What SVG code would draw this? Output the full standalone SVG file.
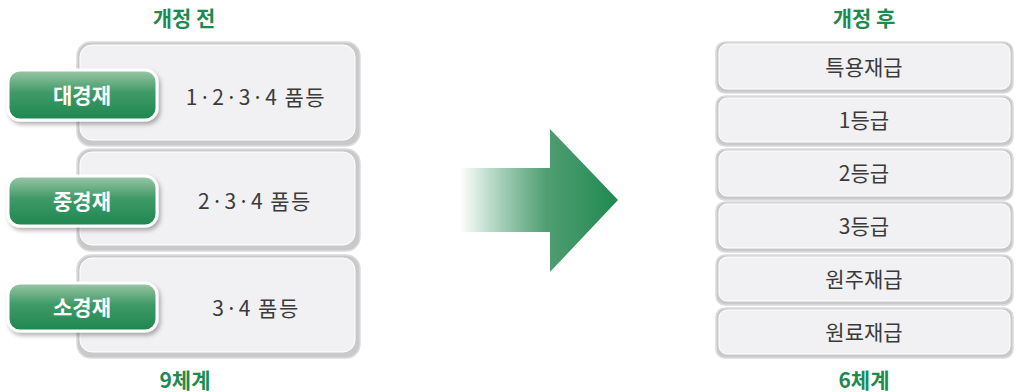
<svg xmlns="http://www.w3.org/2000/svg" width="1016" height="392" viewBox="0 0 1016 392">
<style>
.title{font-family:"Noto Sans CJK KR","Noto Sans",sans-serif;font-weight:bold;font-size:21px;fill:#1f8a50;text-anchor:middle}
.lbl{font-family:"Noto Sans CJK KR","Noto Sans",sans-serif;font-size:21px;fill:#3a3a3a;text-anchor:middle}
.lbl2{letter-spacing:1.5px}
.btxt{font-family:"Noto Sans CJK KR","Noto Sans",sans-serif;font-weight:bold;font-size:21px;fill:#fff;text-anchor:middle}
.outer{fill:#c9c9cb;stroke:#dcdcde;stroke-width:1.5}
.inner{fill:#f1f1f3;stroke:#ffffff;stroke-width:1}
.btn{fill:url(#gb);stroke:#fff;stroke-width:3}
</style>
<defs>
<linearGradient id="gb" x1="0" y1="0" x2="0" y2="1">
<stop offset="0" stop-color="#9cc7a8"/>
<stop offset="0.45" stop-color="#3f9a66"/>
<stop offset="1" stop-color="#1e8650"/>
</linearGradient>
<linearGradient id="ga" x1="460" y1="0" x2="618" y2="0" gradientUnits="userSpaceOnUse">
<stop offset="0" stop-color="#1e8a50" stop-opacity="0"/>
<stop offset="0.55" stop-color="#3d9263" stop-opacity="0.9"/>
<stop offset="1" stop-color="#1e8a50"/>
</linearGradient>
<filter id="sh" x="-10%" y="-20%" width="130%" height="160%">
<feDropShadow dx="2" dy="3" stdDeviation="2" flood-color="#000" flood-opacity="0.3"/>
</filter>
</defs>
<text class="title" x="184" y="26">개정 전</text>
<text class="title" x="864" y="26">개정 후</text>
<g id="before1">
<rect class="outer" x="77" y="42" width="283" height="104" rx="14"/>
<rect class="inner" x="80" y="45" width="275" height="95" rx="12"/>
<rect class="btn" x="8" y="70" width="149" height="50" rx="12" filter="url(#sh)"/>
<text class="btxt" x="82" y="103">대경재</text>
<text class="lbl lbl2" x="256" y="105">1·2·3·4 품등</text>
</g>
<g id="before2">
<rect class="outer" x="77" y="149" width="283" height="102" rx="14"/>
<rect class="inner" x="80" y="152" width="275" height="93" rx="12"/>
<rect class="btn" x="8" y="176" width="149" height="50" rx="12" filter="url(#sh)"/>
<text class="btxt" x="82" y="209">중경재</text>
<text class="lbl lbl2" x="255" y="209">2·3·4 품등</text>
</g>
<g id="before3">
<rect class="outer" x="77" y="255" width="283" height="103" rx="14"/>
<rect class="inner" x="80" y="258" width="275" height="94" rx="12"/>
<rect class="btn" x="8" y="283" width="149" height="48" rx="12" filter="url(#sh)"/>
<text class="btxt" x="82" y="315">소경재</text>
<text class="lbl lbl2" x="256" y="316">3·4 품등</text>
</g>
<text class="title" x="185" y="388">9체계</text>
<g id="arrow">
<polygon points="460,168 550,168 550,129 618,200 550,272 550,232 460,232" fill="url(#ga)"/>
</g>
<g id="after1">
<rect class="outer" x="716" y="42" width="297" height="51" rx="9"/>
<rect class="inner" x="719" y="44" width="291" height="45" rx="8"/>
<text class="lbl" x="864" y="75">특용재급</text>
</g>
<g id="after2">
<rect class="outer" x="716" y="96" width="297" height="50" rx="9"/>
<rect class="inner" x="719" y="98" width="291" height="44" rx="8"/>
<text class="lbl" x="864" y="128">1등급</text>
</g>
<g id="after3">
<rect class="outer" x="716" y="149" width="297" height="51" rx="9"/>
<rect class="inner" x="719" y="151" width="291" height="45" rx="8"/>
<text class="lbl" x="864" y="181">2등급</text>
</g>
<g id="after4">
<rect class="outer" x="716" y="202" width="297" height="50" rx="9"/>
<rect class="inner" x="719" y="204" width="291" height="44" rx="8"/>
<text class="lbl" x="864" y="234">3등급</text>
</g>
<g id="after5">
<rect class="outer" x="716" y="255" width="297" height="50" rx="9"/>
<rect class="inner" x="719" y="257" width="291" height="44" rx="8"/>
<text class="lbl" x="864" y="287">원주재급</text>
</g>
<g id="after6">
<rect class="outer" x="716" y="308" width="297" height="50" rx="9"/>
<rect class="inner" x="719" y="310" width="291" height="44" rx="8"/>
<text class="lbl" x="864" y="340">원료재급</text>
</g>
<text class="title" x="864" y="388">6체계</text>
<g id="connectors"></g>
</svg>
